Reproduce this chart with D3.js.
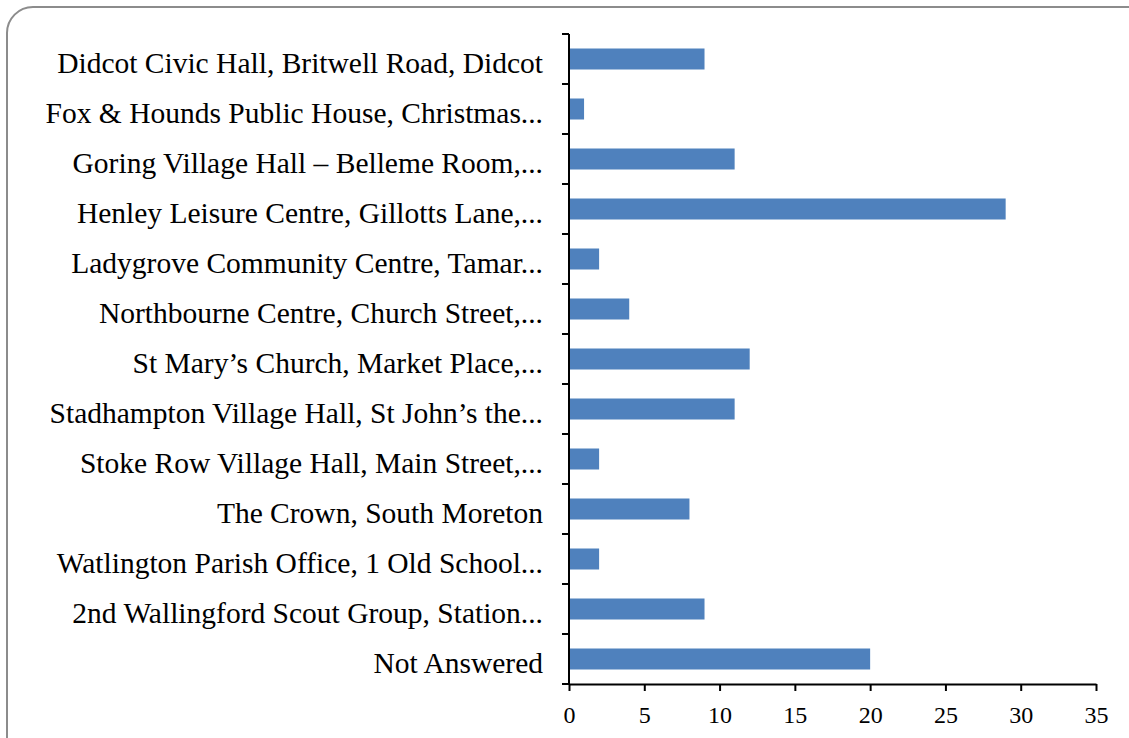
<!DOCTYPE html>
<html>
<head>
<meta charset="utf-8">
<script src="https://cdn.jsdelivr.net/npm/d3@7"></script>
<style>
  body { margin: 0; background: #fff; }
  svg { display: block; }
</style>
</head>
<body>
<script>
var categories = [
  "Didcot Civic Hall, Britwell Road, Didcot",
  "Fox & Hounds Public House, Christmas...",
  "Goring Village Hall \u2013 Belleme Room,...",
  "Henley Leisure Centre, Gillotts Lane,...",
  "Ladygrove Community Centre, Tamar...",
  "Northbourne Centre, Church Street,...",
  "St Mary\u2019s Church, Market Place,...",
  "Stadhampton Village Hall, St John\u2019s the...",
  "Stoke Row Village Hall, Main Street,...",
  "The Crown, South Moreton",
  "Watlington Parish Office, 1 Old School...",
  "2nd Wallingford Scout Group, Station...",
  "Not Answered"
];
var values = [9, 1, 11, 29, 2, 4, 12, 11, 2, 8, 2, 9, 20];
var xTicks = [0, 5, 10, 15, 20, 25, 30, 35];

var outerWidth = 1129,
    outerHeight = 738;

// plot area
var margin = {top: 34, left: 569, right: 33, bottom: 54},
    width = outerWidth - margin.left - margin.right,
    height = outerHeight - margin.top - margin.bottom;

var svg = d3.select("body").append("svg")
    .attr("width", outerWidth)
    .attr("height", outerHeight);

// rounded frame, running off right and bottom edges
svg.append("rect")
    .attr("x", 7).attr("y", 7)
    .attr("width", outerWidth + 20).attr("height", outerHeight + 20)
    .attr("rx", 26).attr("ry", 26)
    .attr("fill", "none")
    .attr("stroke", "#8c8c8c")
    .attr("stroke-width", 2);

var g = svg.append("g")
    .attr("transform", "translate(" + margin.left + "," + margin.top + ")");

var xScale = d3.scaleLinear()
    .domain([0, 35])
    .range([0, width]);

var yScale = d3.scaleBand()
    .domain(categories)
    .range([0, height])
    .paddingInner(0.58)
    .paddingOuter(0.29);

g.selectAll(".bar")
    .data(values)
    .enter().append("rect")
    .attr("class", "bar")
    .attr("x", 0)
    .attr("y", function(d, i) { return yScale(categories[i]); })
    .attr("width", function(d) { return xScale(d); })
    .attr("height", yScale.bandwidth())
    .attr("fill", "#4f81bd");

// y axis: band boundary ticks
var bandStep = height / categories.length;
var yLine = g.append("g").attr("class", "y-axis");
yLine.append("line")
    .attr("x1", 0).attr("x2", 0)
    .attr("y1", 0).attr("y2", height)
    .attr("stroke", "#000").attr("stroke-width", 2);
yLine.selectAll(".tick")
    .data(d3.range(categories.length + 1))
    .enter().append("line")
    .attr("x1", -7).attr("x2", 0)
    .attr("y1", function(d) { return d * bandStep; })
    .attr("y2", function(d) { return d * bandStep; })
    .attr("stroke", "#000").attr("stroke-width", 2);

yLine.selectAll(".label")
    .data(categories)
    .enter().append("text")
    .attr("x", -26)
    .attr("y", function(d) { return yScale(d) + yScale.bandwidth() / 2 + 4; })
    .attr("dy", "0.35em")
    .attr("text-anchor", "end")
    .attr("font-family", "Liberation Serif, serif")
    .attr("font-size", 29.5)
    .attr("fill", "#000")
    .text(function(d) { return d; });

// x axis
var xAxis = d3.axisBottom(xScale)
    .tickValues(xTicks)
    .tickSize(7)
    .tickSizeOuter(0);

var xg = g.append("g")
    .attr("transform", "translate(0," + height + ")")
    .call(xAxis);
xg.select(".domain").attr("stroke-width", 2);
xg.selectAll(".tick line").attr("stroke-width", 2);
xg.selectAll(".tick text")
    .attr("y", 22)
    .attr("font-family", "Liberation Serif, serif")
    .attr("font-size", 24)
    .attr("fill", "#000");
</script>
</body>
</html>
